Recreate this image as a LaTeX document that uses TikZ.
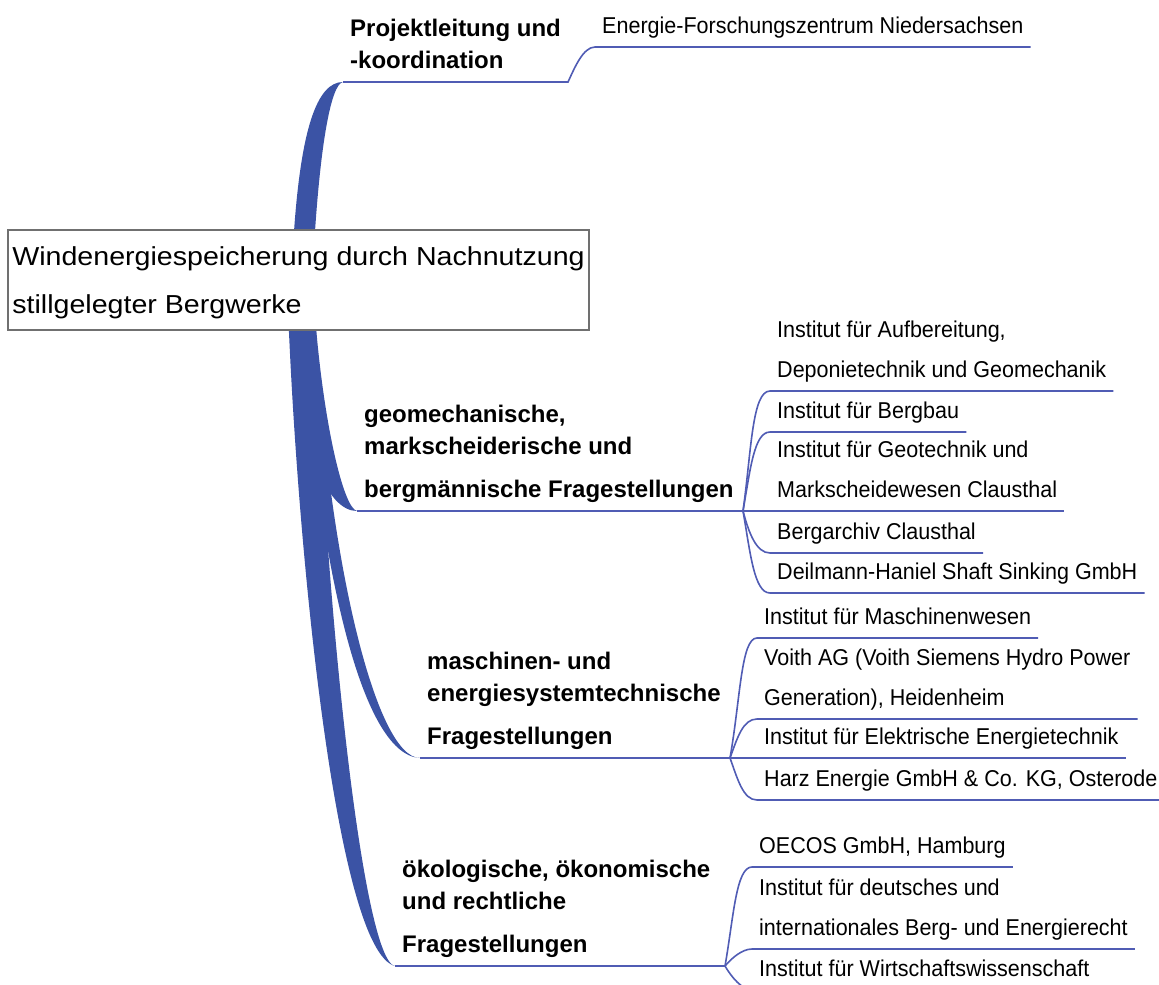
\documentclass[tikz,border=0pt]{standalone}
\usepackage{fontspec}
\setmainfont{Liberation Sans}
\newfontfamily\rootfont[FakeStretch=1.1]{Liberation Sans}
\newfontfamily\leaffont[FakeStretch=0.94]{Liberation Sans}
\usetikzlibrary{calc,backgrounds}

\definecolor{mmblue}{RGB}{59,83,165}
\definecolor{twigblue}{RGB}{80,92,180}
\definecolor{boxgray}{RGB}{112,112,112}

\newcommand{\mltext}[1]{\begin{tabular}[b]{@{}l@{}}#1\end{tabular}}

\tikzset{
  trunk/.style={fill=mmblue},
  twig/.style={draw=twigblue, line width=1.6pt},
  rootbox/.style={draw=boxgray, line width=2pt, fill=white, inner sep=0pt,
    font=\rootfont\fontsize{26}{48}\selectfont},
  topic/.style={anchor=south west, inner xsep=7pt, inner ysep=13pt, text depth=0pt,
    font=\fontsize{24}{32}\selectfont\bfseries},
  leaf/.style={anchor=south west, inner xsep=7pt, inner ysep=13pt, text depth=0pt,
    font=\leaffont\fontsize{22.9}{40}\selectfont}
}

\begin{document}
\begin{tikzpicture}[x=1pt,y=-1pt]

        \useasboundingbox (0,0) rectangle (1159,985);
        \clip (0,0) rectangle (1159,985);

        \node [rootbox,minimum width=581pt,minimum height=100pt,anchor=north west] (root) at (7,229)
              {\mltext{Windenergiespeicherung durch Nachnutzung\\stillgelegter Bergwerke}};

        % topics
        \node [topic] (t1) at (343,82) {\mltext{Projektleitung und\\-koordination}};
        \node [topic] (t2) at (357,511) {\mltext{geomechanische,\\markscheiderische und\\[11pt]bergmännische Fragestellungen}};
        \node [topic] (t3) at (420,758) {\mltext{maschinen- und\\energiesystemtechnische\\[11pt]Fragestellungen}};
        \node [topic] (t4) at (395,966) {\mltext{ökologische, ökonomische\\und rechtliche\\[11pt]Fragestellungen}};

        \coordinate (h1) at (568,82);
        \coordinate (h2) at (743,511);
        \coordinate (h3) at (730,758);
        \coordinate (h4) at (725,966);

        % partners
        \node [leaf] (l11) at (595,47) {Energie-Forschungszentrum Niedersachsen};

        \node [leaf] (l21) at (770,391) {\mltext{Institut für Aufbereitung,\\Deponietechnik und Geomechanik}};
        \node [leaf] (l22) at (770,432) {Institut für Bergbau};
        \node [leaf] (l23) at (770,511) {\mltext{Institut für Geotechnik und\\Markscheidewesen Clausthal}};
        \node [leaf] (l24) at (770,553) {Bergarchiv Clausthal};
        \node [leaf] (l25) at (770,593) {Deilmann-Haniel Shaft Sinking GmbH};

        \node [leaf] (l31) at (757,638) {Institut für Maschinenwesen};
        \node [leaf] (l32) at (757,719) {\mltext{Voith AG (Voith Siemens Hydro Power\\Generation), Heidenheim}};
        \node [leaf] (l33) at (757,758) {Institut für Elektrische Energietechnik};
        \node [leaf] (l34) at (757,800) {Harz Energie GmbH \& Co. KG, Osterode};

        \node [leaf] (l41) at (752,867) {OECOS GmbH, Hamburg};
        \node [leaf] (l42) at (752,949) {\mltext{Institut für deutsches und\\internationales Berg- und Energierecht}};
        \node [leaf] (l43) at (752,990) {Institut für Wirtschaftswissenschaft};

        % main branches
        \begin{scope}[on background layer]
        \fill [trunk] ($(root.north)+(-5,10)$) .. controls ($(root.north)+(2,-100)$) and ($(t1.south west)+(-26,0)$) .. (t1.south west)
              .. controls ($(t1.south west)+(-12,2)$) and ($(root.north)+(22,-85)$) .. ($(root.north)+(16,10)$) -- cycle;
        \fill [trunk] ($(root.south)+(-9,-10)$) .. controls ($(root.south)+(2,120)$) and ($(t2.south west)+(-30,0)$) .. (t2.south west)
              .. controls ($(t2.south west)+(-14,-3)$) and ($(root.south)+(25,90)$) .. ($(root.south)+(17,-10)$) -- cycle;
        \fill [trunk] ($(root.south)+(2,-10)$) .. controls ($(root.south)+(20,230)$) and ($(t3.south west)+(-60,-3)$) .. (t3.south west)
              .. controls ($(t3.south west)+(-45,0)$) and ($(root.south)+(28,220)$) .. ($(root.south)+(17,-10)$) -- cycle;
        \fill [trunk] ($(root.south)+(-10,-10)$) .. controls ($(root.south)+(0,230)$) and ($(t4.south west)+(-58,-15)$) .. (t4.south west)
              .. controls ($(t4.south west)+(-32,-5)$) and ($(root.south)+(27,280)$) .. ($(root.south)+(17,-10)$) -- cycle;
        \end{scope}

        % topic lines and twigs
        \draw [twig] (t1.south west) -- (h1) .. controls +(-65:15) and +(180:12) .. (l11.south west) -- (l11.south east);

        \draw [twig] (t2.south west) -- (h2) -- (l23.south west) -- (l23.south east);
        \foreach \n/\a/\r/\s in {l21/-82/60/18, l22/-80/42/16, l24/75/22/14, l25/80/42/16}
            \draw [twig] (h2) .. controls +(\a:\r) and +(180:\s) .. (\n.south west) -- (\n.south east);

        \draw [twig] (t3.south west) -- (h3) -- (l33.south west) -- (l33.south east);
        \foreach \n/\a/\r/\s in {l31/-80/60/16, l32/-70/22/14, l34/70/22/14}
            \draw [twig] (h3) .. controls +(\a:\r) and +(180:\s) .. (\n.south west) -- (\n.south east);

        \draw [twig] (t4.south west) -- (h4);
        \foreach \n/\a/\r/\s in {l41/-80/50/16, l42/-50/10/10, l43/60/12/10}
            \draw [twig] (h4) .. controls +(\a:\r) and +(180:\s) .. (\n.south west) -- (\n.south east);

\end{tikzpicture}
\end{document}
